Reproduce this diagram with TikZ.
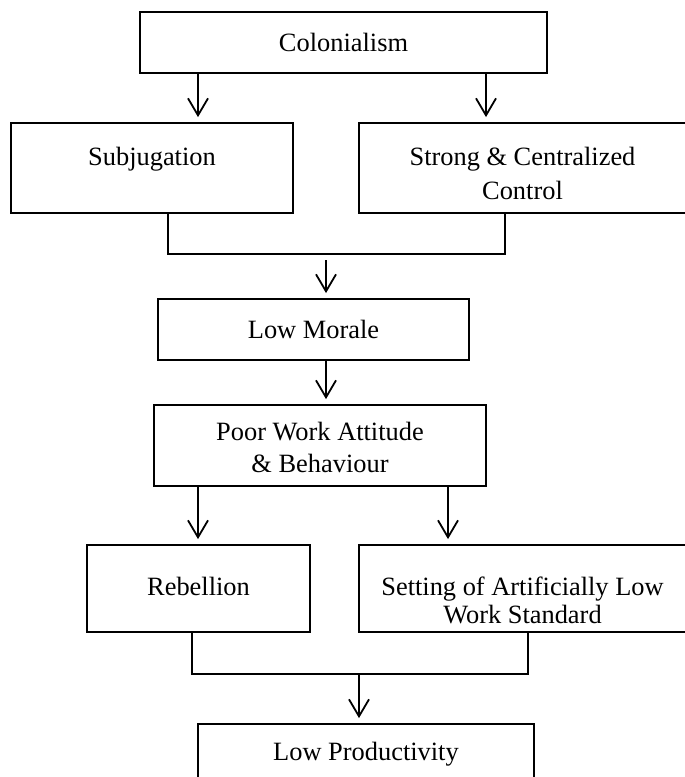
\documentclass[tikz,border=0pt]{standalone}
\usepackage{fontspec}
\setmainfont{Liberation Serif}
\usepackage{tikz}
\usetikzlibrary{arrows.meta}

\begin{document}
\begin{tikzpicture}[x=0.5pt, y=-0.5pt,
    box/.style={shape=rectangle, draw, line width=0.9pt, inner sep=0pt, align=center,
      font=\fontsize{13.2}{15.5}\selectfont},
    toprow/.style={box, minimum height=45pt, font=\fontsize{13.2}{17}\selectfont},
    lowrow/.style={box, minimum height=43.5pt, font=\fontsize{13.2}{14}\selectfont},
    arr/.style={line width=0.9pt, -{Straight Barb[length=8.5pt, width=10pt]}, shorten >=2.5pt}]
    \useasboundingbox (0,0) rectangle (685,777);
    \node[box, minimum width=203.5pt, minimum height=30.5pt] (colon) at (343.5,42.5) {Colonialism};
    \node[toprow, minimum width=141pt, text height=10pt, text depth=13pt] (sub) at (152,168) {Subjugation};
    \node[toprow, minimum width=163.5pt, text height=31pt, text depth=0pt] (strong) at (522.5,168) {Strong \& Centralized\\Control};
    \node[box, minimum width=155.5pt, minimum height=30.5pt] (morale) at (313.5,329.5) {Low Morale};
    \node[box, minimum width=166pt, minimum height=40.5pt, text height=26.5pt, text depth=0pt,
      font=\fontsize{13.2}{16}\selectfont] (poor) at (320,445.5) {Poor Work Attitude\\\& Behaviour};
    \node[lowrow, minimum width=111.5pt, text height=10pt, text depth=3.5pt] (rebel) at (198.5,588.5) {Rebellion};
    \node[lowrow, minimum width=163.5pt, text height=34.5pt, text depth=0pt] (setting) at (522.5,588.5) {Setting of Artificially Low\\Work Standard};
    \node[box, minimum width=168pt, minimum height=30pt] (prod) at (366,754) {Low Productivity};

    \coordinate (c1) at (198,0);
    \coordinate (c2) at (486,0);
    \coordinate (c3) at (448,0);
    \coordinate (sl) at (168,0);
    \coordinate (sr) at (505,0);
    \coordinate (j1) at (326,254);
    \coordinate (rl) at (192,0);
    \coordinate (rr) at (528,0);
    \coordinate (j2) at (359,674);

    \draw[arr] (colon.south -| c1) -- (sub.north -| c1);
    \draw[arr] (colon.south -| c2) -- (strong.north -| c2);
    \draw[line width=0.9pt] (sub.south -| sl) |- (j1) -| (strong.south -| sr);
    \draw[arr] ([yshift=-3pt]j1) -- (morale.north -| j1);
    \draw[arr] (morale.south -| j1) -- (poor.north -| j1);
    \draw[arr] (poor.south -| c1) -- (rebel.north -| c1);
    \draw[arr] (poor.south -| c3) -- (setting.north -| c3);
    \draw[line width=0.9pt] (rebel.south -| rl) |- (j2) -| (setting.south -| rr);
    \draw[arr] (j2) -- (prod.north -| j2);
  \end{tikzpicture}
\end{document}
